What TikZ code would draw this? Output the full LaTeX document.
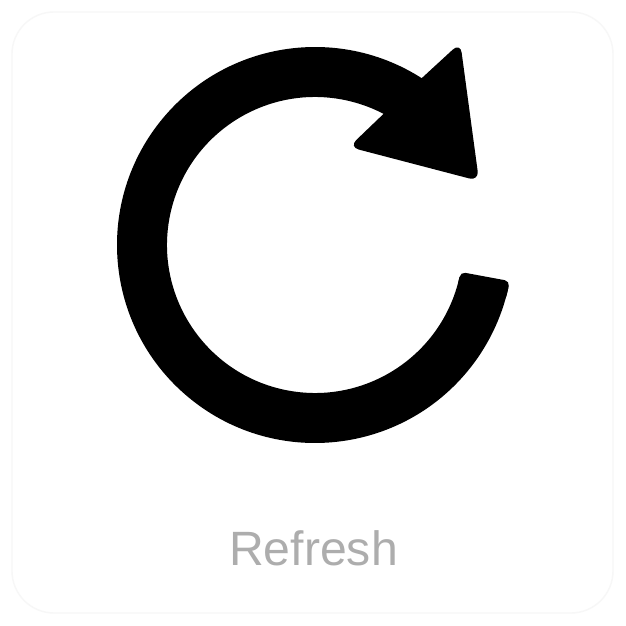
\documentclass[tikz,border=0pt]{standalone}
\usepackage{fontspec}
\setmainfont{Liberation Sans}
\usetikzlibrary{calc}
\definecolor{framegray}{HTML}{F7F7F7}
\definecolor{labelgray}{HTML}{ADADAD}
\tikzset{%
  iconfill/.style={fill=black,draw=none},
  cardframe/.style={draw=framegray,line width=0.4pt,rounded corners=0.42cm},
  iconlabel/.style={text=labelgray,font=\fontsize{13.7}{16}\selectfont,inner sep=0pt,anchor=base}
}
\begin{document}
\begin{tikzpicture}
	%% some definitions
	\def\Ro{1.98} % outer radius
	\def\Ri{1.48} % inner radius
	\def\angEnd{-10.5} % open end of the ring
	\def\angStart{50} % ring starts under the arrow head

	\useasboundingbox (0,0) rectangle (6.26,6.26);
	\fill[white] (0,0) rectangle (6.26,6.26);
	\draw[cardframe] (0.12,0.13) rectangle (6.13,6.14);

	\coordinate (O) at (3.15,3.81);

	% ring
	\fill[iconfill] ($(O)+(\angStart:\Ro)$) arc (\angStart:360+\angEnd-2:\Ro)
	  -- ($(O)+(\angEnd-2:\Ri)$) arc (360+\angEnd-2:\angStart:\Ri) -- cycle;
	% end of the ring
	\fill[iconfill,rounded corners=0.05cm] ($(O)+(\angEnd-6:\Ri)$) arc (\angEnd-6:\angEnd:\Ri)
	  -- ($(O)+(\angEnd:\Ro)$) arc (\angEnd:\angEnd-6:\Ro) -- cycle;
	% arrow head
	\fill[iconfill,rounded corners=0.1cm] ($(O)+(57.4:\Ro)$) -- ($(O)+(1.453,2.023)$)
	  -- ($(O)+(1.64,0.64)$) -- ($(O)+(0.34,0.98)$) -- ($(O)+(62.4:\Ri)$) -- cycle;

	\node[iconlabel] (label) at (3.135,0.60) {Refresh};
\end{tikzpicture}
\end{document}
